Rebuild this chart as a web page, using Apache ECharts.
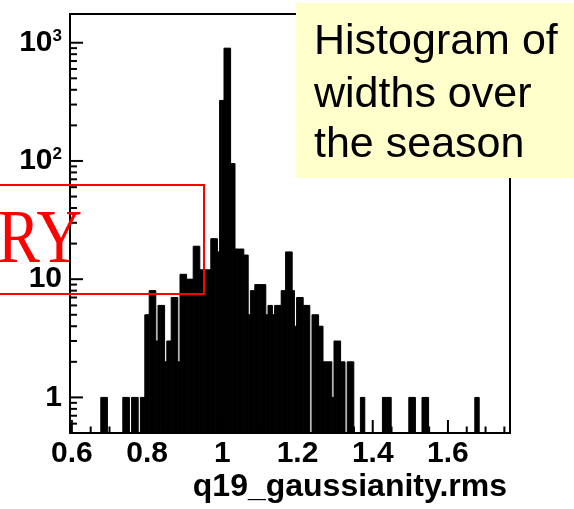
<!DOCTYPE html>
<html><head><meta charset="utf-8">
<script src="https://cdn.jsdelivr.net/npm/echarts@6/dist/echarts.min.js"></script>
<style>html,body{margin:0;padding:0;background:#fff}#c{width:574px;height:509px}</style>
</head><body><div id="c"></div>
<script>
// ---- data ----
const binStart = 0.595;
const binWidth = 0.00585;
const counts = [
  0,0,0,0,0,0,0,0,0,0,
  0,0,0,0,1,1,1,0,0,0,
  0,0,0,0,1,1,1,0,1,1,
  1,0,1,1,5,5,8,8,8,3,
  6,6,6,2,3,3,7,7,7,2,
  11,11,11,10,10,10,19,19,19,12,
  12,12,12,12,22,22,22,17,325,325,
  900,900,900,95,95,18,18,18,18,16,
  16,5,8,8,9,9,9,9,9,5,
  6,6,5,6,6,6,8,8,17,17,
  17,8,4,7,7,7,6,6,6,0,
  5,5,5,4,4,2,2,2,2,1,
  3,3,3,2,2,0,2,2,2,0,
  0,0,1,1,0,0,0,0,0,0,
  0,0,1,1,1,1,0,0,0,0,
  0,0,0,0,1,1,1,0,0,0,
  1,1,1,0,0,0,0,0,0,0,
  0,0,0,0,0,0,0,0,0,0,
  0,0,0,0,1,1,0,0,0,0,
  0,0,0,0,0,0,0,0,0,0
];
const xTickLabels = [0.6, 0.8, 1, 1.2, 1.4, 1.6];
const xMinorTicks = [0.65,0.7,0.75,0.85,0.9,0.95,1.05,1.1,1.15,1.25,1.3,1.35,1.45,1.5,1.55,1.65,1.7,1.75];
const yMajorTicks = [1, 10, 100, 1000];
const yMinorTicks = [0.6,0.7,0.8,0.9,2,3,4,5,6,7,8,9,20,30,40,50,60,70,80,90,200,300,400,500,600,700,800,900];
const xAxisTitle = 'q19_gaussianity.rms';
const noteLines = ['Histogram of', 'widths over', 'the season'];
const stampText = 'RY';

// ---- chart ----
const X_MIN = 0.595, X_MAX = 1.765, Y_MIN = 0.5, Y_MAX = 1750;
const chart = echarts.init(document.getElementById('c'), null, {renderer: 'canvas'});

function tickSeries(values, axis, len) {
  return {
    type: 'custom', silent: true, clip: false, z: 5,
    data: values.map(v => axis === 'x' ? [v, Y_MIN] : [X_MIN, v]),
    renderItem: (params, api) => {
      const p = api.coord([api.value(0), api.value(1)]);
      const shape = axis === 'x'
        ? {x1: p[0], y1: p[1], x2: p[0], y2: p[1] - len}
        : {x1: p[0], y1: p[1], x2: p[0] + len, y2: p[1]};
      return {type: 'line', shape, style: {stroke: '#000', lineWidth: 2}};
    }
  };
}

const binData = [];
counts.forEach((c, i) => { if (c > 0) binData.push([binStart + i * binWidth, binStart + (i + 1) * binWidth, c]); });

chart.setOption({
  animation: false,
  backgroundColor: '#fff',
  grid: {left: 70, right: 64, top: 14, bottom: 76, containLabel: false, show: true, borderColor: '#000', borderWidth: 2, backgroundColor: 'transparent'},
  xAxis: {
    type: 'value', min: X_MIN, max: X_MAX,
    axisLine: {show: false}, axisTick: {show: false}, splitLine: {show: false},
    axisLabel: {
      customValues: xTickLabels,
      margin: 6,
      fontFamily: 'Liberation Sans', fontWeight: 'bold', fontSize: 30, color: '#000',
      formatter: v => String(+v.toFixed(2))
    }
  },
  yAxis: {
    type: 'log', logBase: 10, min: Y_MIN, max: Y_MAX,
    axisLine: {show: false}, axisTick: {show: false}, splitLine: {show: false}, minorTick: {show: false},
    axisLabel: {
      margin: 8,
      formatter: v => {
        const l = Math.log10(v), r = Math.round(l);
        if (Math.abs(l - r) > 1e-6 || r < 0) return '';
        if (r === 0) return '{b|1}';
        if (r === 1) return '{b|10}';
        return '{b|10}{s|' + r + '}';
      },
      rich: {
        b: {fontFamily: 'Liberation Sans', fontWeight: 'bold', fontSize: 30, color: '#000'},
        s: {fontFamily: 'Liberation Sans', fontWeight: 'bold', fontSize: 17, color: '#000', verticalAlign: 'top'}
      }
    }
  },
  series: [
    {
      type: 'custom', silent: true, clip: true, z: 3,
      data: binData,
      encode: {x: [0, 1], y: 2},
      renderItem: (params, api) => {
        const p0 = api.coord([api.value(0), api.value(2)]);
        const p1 = api.coord([api.value(1), Y_MIN]);
        return {type: 'rect', shape: {x: p0[0], y: p0[1], width: p1[0] - p0[0], height: p1[1] - p0[1]},
                style: {fill: '#000', stroke: '#000', lineWidth: 1}};
      }
    },
    tickSeries(xTickLabels, 'x', 13),
    tickSeries(xMinorTicks, 'x', 6.5),
    tickSeries(yMajorTicks, 'y', 13),
    tickSeries(yMinorTicks, 'y', 7)
  ],
  graphic: [
    {type: 'text', z: 50, x: 507, y: 487, style: {text: xAxisTitle, fill: '#000', font: 'bold 32px "Liberation Sans"', textAlign: 'right', verticalAlign: 'middle'}},
    {type: 'rect', z: 100, shape: {x: 296, y: 3, width: 280, height: 175}, style: {fill: '#FFFFCC'}},
    {type: 'text', z: 101, x: 314, y: 42, style: {text: noteLines[0], fill: '#000', font: '43px "Liberation Sans"', verticalAlign: 'middle'}},
    {type: 'text', z: 101, x: 314, y: 95, style: {text: noteLines[1], fill: '#000', font: '43px "Liberation Sans"', verticalAlign: 'middle'}},
    {type: 'text', z: 101, x: 314, y: 145, style: {text: noteLines[2], fill: '#000', font: '43px "Liberation Sans"', verticalAlign: 'middle'}},
    {type: 'rect', z: 110, shape: {x: -10, y: 185, width: 214, height: 109}, style: {fill: 'none', stroke: '#ff0000', lineWidth: 2}},
    {type: 'text', z: 111, x: 82, y: 242, scaleX: 0.82, style: {text: stampText, fill: '#ff0000', font: '77px "Liberation Serif"', textAlign: 'right', verticalAlign: 'middle'}}
  ]
});
</script></body></html>
